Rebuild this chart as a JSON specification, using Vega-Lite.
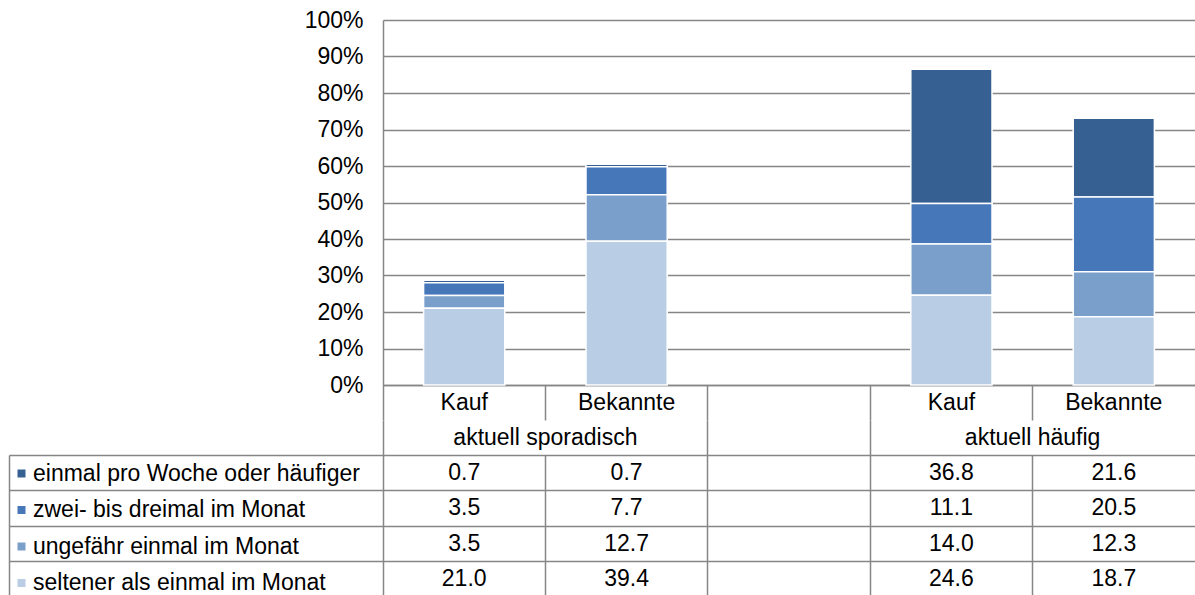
{
  "$schema": "https://vega.github.io/schema/vega-lite/v6.json",
  "padding": {"left": 3, "top": 9, "right": 0, "bottom": 0},
  "background": "white",
  "spacing": 0,
  "bounds": "flush",
  "resolve": {"scale": {"x": "independent", "y": "independent"}},
  "config": {
    "view": {"stroke": null},
    "font": "Liberation Sans",
    "axis": {
      "labelFont": "Liberation Sans",
      "labelColor": "#000000",
      "gridColor": "#868686",
      "gridWidth": 1.5,
      "domainColor": "#868686",
      "domainWidth": 1.5,
      "tickColor": "#868686",
      "tickWidth": 1.5
    },
    "text": {"font": "Liberation Sans", "fontSize": 23, "color": "#000000"}
  },
  "datasets": {
    "main": [
      {"group": "aktuell sporadisch", "cat": "Kauf", "col": "sp_Kauf", "series": "einmal pro Woche oder häufiger", "value": 0.7},
      {"group": "aktuell sporadisch", "cat": "Kauf", "col": "sp_Kauf", "series": "zwei- bis dreimal im Monat", "value": 3.5},
      {"group": "aktuell sporadisch", "cat": "Kauf", "col": "sp_Kauf", "series": "ungefähr einmal im Monat", "value": 3.5},
      {"group": "aktuell sporadisch", "cat": "Kauf", "col": "sp_Kauf", "series": "seltener als einmal im Monat", "value": 21.0},
      {"group": "aktuell sporadisch", "cat": "Bekannte", "col": "sp_Bekannte", "series": "einmal pro Woche oder häufiger", "value": 0.7},
      {"group": "aktuell sporadisch", "cat": "Bekannte", "col": "sp_Bekannte", "series": "zwei- bis dreimal im Monat", "value": 7.7},
      {"group": "aktuell sporadisch", "cat": "Bekannte", "col": "sp_Bekannte", "series": "ungefähr einmal im Monat", "value": 12.7},
      {"group": "aktuell sporadisch", "cat": "Bekannte", "col": "sp_Bekannte", "series": "seltener als einmal im Monat", "value": 39.4},
      {"group": "aktuell häufig", "cat": "Kauf", "col": "hf_Kauf", "series": "einmal pro Woche oder häufiger", "value": 36.8},
      {"group": "aktuell häufig", "cat": "Kauf", "col": "hf_Kauf", "series": "zwei- bis dreimal im Monat", "value": 11.1},
      {"group": "aktuell häufig", "cat": "Kauf", "col": "hf_Kauf", "series": "ungefähr einmal im Monat", "value": 14.0},
      {"group": "aktuell häufig", "cat": "Kauf", "col": "hf_Kauf", "series": "seltener als einmal im Monat", "value": 24.6},
      {"group": "aktuell häufig", "cat": "Bekannte", "col": "hf_Bekannte", "series": "einmal pro Woche oder häufiger", "value": 21.6},
      {"group": "aktuell häufig", "cat": "Bekannte", "col": "hf_Bekannte", "series": "zwei- bis dreimal im Monat", "value": 20.5},
      {"group": "aktuell häufig", "cat": "Bekannte", "col": "hf_Bekannte", "series": "ungefähr einmal im Monat", "value": 12.3},
      {"group": "aktuell häufig", "cat": "Bekannte", "col": "hf_Bekannte", "series": "seltener als einmal im Monat", "value": 18.7}
    ],
    "cols": [
      {"col": "sp_Kauf", "label": "Kauf"},
      {"col": "sp_Bekannte", "label": "Bekannte"},
      {"col": "hf_Kauf", "label": "Kauf"},
      {"col": "hf_Bekannte", "label": "Bekannte"}
    ],
    "groups": [
      {"col": "sp_Bekannte", "group": "aktuell sporadisch"},
      {"col": "hf_Bekannte", "group": "aktuell häufig"}
    ]
  },
  "vconcat": [
    {
      "width": 812,
      "height": 365,
      "data": {"name": "main"},
      "transform": [
        {"calculate": "indexof(['seltener als einmal im Monat','ungefähr einmal im Monat','zwei- bis dreimal im Monat','einmal pro Woche oder häufiger'], datum.series)", "as": "stackRank"}
      ],
      "mark": {"type": "bar", "stroke": "white", "strokeWidth": 1.5},
      "encoding": {
        "x": {
          "field": "col", "type": "nominal",
          "scale": {"type": "band", "domain": ["sp_Kauf", "sp_Bekannte", "gap", "hf_Kauf", "hf_Bekannte"], "paddingInner": 0.5, "paddingOuter": 0.25},
          "axis": {"labels": false, "ticks": false, "grid": false, "domain": true, "title": null}
        },
        "y": {
          "field": "value", "type": "quantitative", "stack": "zero",
          "scale": {"domain": [0, 100], "nice": false},
          "axis": {"values": [0, 10, 20, 30, 40, 50, 60, 70, 80, 90, 100], "labelExpr": "datum.value + '%'", "labelFontSize": 23, "labelPadding": 20, "ticks": false, "grid": true, "domain": true, "title": null}
        },
        "color": {
          "field": "series", "type": "nominal",
          "scale": {"domain": ["einmal pro Woche oder häufiger", "zwei- bis dreimal im Monat", "ungefähr einmal im Monat", "seltener als einmal im Monat"], "range": ["#376092", "#4677B8", "#7A9FCB", "#B9CDE5"]},
          "legend": {"orient": "none", "legendX": -380, "legendY": 435, "title": null, "symbolType": "square", "symbolSize": 64, "symbolStrokeWidth": 0, "labelFont": "Liberation Sans", "labelFontSize": 23, "labelColor": "#000000", "labelOffset": 0, "rowPadding": 12.5, "padding": 7, "labelLimit": 400}
        },
        "order": {"field": "stackRank", "type": "quantitative"}
      }
    },
    {
      "width": 812,
      "height": 35,
      "data": {"name": "cols"},
      "mark": {"type": "text", "fontSize": 23},
      "encoding": {
        "x": {
          "field": "col", "type": "nominal",
          "scale": {"type": "band", "domain": ["sp_Kauf", "sp_Bekannte", "gap", "hf_Kauf", "hf_Bekannte"], "paddingInner": 0, "paddingOuter": 0},
          "axis": {"orient": "top", "labels": false, "ticks": false, "domain": false, "grid": true, "bandPosition": 0, "tickExtra": false, "title": null}
        },
        "text": {"field": "label"}
      }
    },
    {
      "width": 812,
      "height": 35,
      "data": {"name": "groups"},
      "mark": {"type": "text", "fontSize": 23},
      "encoding": {
        "x": {
          "field": "col", "type": "nominal", "bandPosition": 0,
          "scale": {"type": "band", "domain": ["sp_Kauf", "sp_Bekannte", "gap", "hf_Kauf", "hf_Bekannte"], "paddingInner": 0, "paddingOuter": 0},
          "axis": {"orient": "top", "values": ["sp_Kauf", "gap", "hf_Kauf"], "labels": false, "ticks": false, "domain": false, "grid": true, "bandPosition": 0, "tickExtra": false, "title": null}
        },
        "text": {"field": "group"}
      }
    },
    {
      "width": 812,
      "height": 142,
      "data": {"name": "main"},
      "mark": {"type": "text", "fontSize": 23},
      "encoding": {
        "x": {
          "field": "col", "type": "nominal",
          "scale": {"type": "band", "domain": ["sp_Kauf", "sp_Bekannte", "gap", "hf_Kauf", "hf_Bekannte"], "paddingInner": 0, "paddingOuter": 0},
          "axis": {"orient": "top", "labels": false, "ticks": false, "domain": false, "grid": true, "bandPosition": 0, "tickExtra": false, "title": null}
        },
        "y": {
          "field": "series", "type": "nominal",
          "scale": {"type": "band", "domain": ["einmal pro Woche oder häufiger", "zwei- bis dreimal im Monat", "ungefähr einmal im Monat", "seltener als einmal im Monat"], "paddingInner": 0, "paddingOuter": 0},
          "axis": {"orient": "left", "offset": 374, "labels": false, "ticks": true, "tickSize": -1186, "domain": true, "grid": false, "bandPosition": 0, "tickExtra": false, "title": null}
        },
        "text": {"field": "value", "type": "quantitative", "format": ".1f"}
      }
    }
  ]
}
